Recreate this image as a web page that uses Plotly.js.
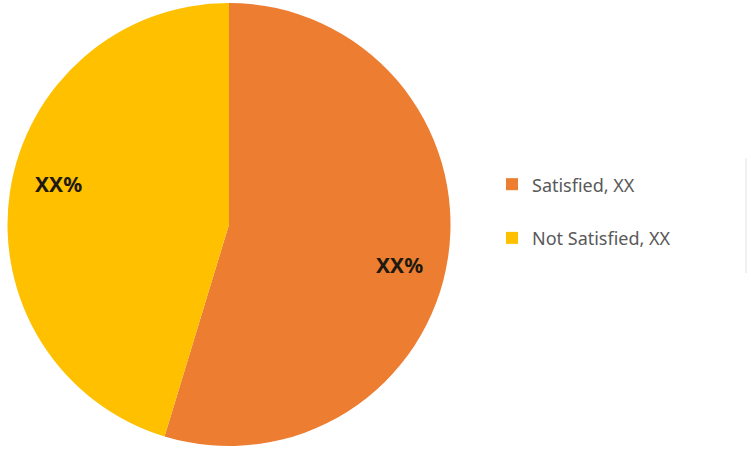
<!DOCTYPE html>
<html>
<head>
<meta charset="utf-8">
<script src="https://cdn.plot.ly/plotly-3.0.1.min.js"></script>
<style>html,body{margin:0;padding:0;background:#fff;}#chart{width:751px;height:453px;}</style>
</head>
<body>
<div id="chart"></div>
<script>
// Data
const categories = ["Satisfied", "Not Satisfied"];
const legendValues = ["XX", "XX"];
const shares = [54.7, 45.3];
const sliceLabels = ["XX%", "XX%"];
const colors = ["#ED7D31", "#FFC000"];

const W = 751, H = 453;
const domX = [7 / W, 451 / W];
const domY = [1 - 446 / H, 1 - 3 / H];

// Pie geometry (pixels) for label placement
const cx = (domX[0] + domX[1]) / 2 * W;
const cy = (1 - (domY[0] + domY[1]) / 2) * H;
const R = 221.5;
const labelR = 0.79 * R;
const labelShiftDeg = 5;

const total = shares.reduce((a, b) => a + b, 0);
let cum = 0;
const annotations = shares.map((v, i) => {
  const mid = (cum + v / 2) / total * 360 + labelShiftDeg;
  cum += v;
  const rad = mid * Math.PI / 180;
  const px = cx + labelR * Math.sin(rad);
  const py = cy - labelR * Math.cos(rad);
  return {
    x: px / W, y: 1 - py / H, xref: 'paper', yref: 'paper',
    xanchor: 'center', yanchor: 'middle',
    text: '<b>' + sliceLabels[i] + '</b>', showarrow: false,
    font: {family: 'Noto Sans, DejaVu Sans, sans-serif', size: 21, color: '#1e1a10'}
  };
});

const legendLabels = categories.map((c, i) =>
  '<span style="font-size:18px">' + c + ', ' + legendValues[i] + '</span><br>&nbsp;');

const trace = {
  type: 'pie',
  labels: legendLabels,
  values: shares,
  sort: false,
  direction: 'clockwise',
  rotation: 0,
  marker: {colors: colors, line: {width: 0}},
  textinfo: 'none',
  hoverinfo: 'none',
  domain: {x: domX, y: domY}
};

const layout = {
  width: W, height: H,
  margin: {l: 0, r: 0, t: 0, b: 0},
  paper_bgcolor: '#ffffff',
  showlegend: true,
  legend: {
    x: 492 / W, xanchor: 'left',
    y: 1 - 165 / H, yanchor: 'top',
    valign: 'top',
    font: {family: 'Noto Sans, DejaVu Sans, sans-serif', size: 19.5, color: '#595959'},
    bgcolor: 'rgba(0,0,0,0)',
    borderwidth: 0
  },
  annotations: annotations,
  shapes: [{
    type: 'line', xref: 'paper', yref: 'paper',
    x0: 746 / W, x1: 746 / W, y0: 1 - 158 / H, y1: 1 - 273 / H,
    line: {color: '#ebebeb', width: 1.5}
  }]
};

Plotly.newPlot('chart', [trace], layout, {displayModeBar: false, staticPlot: true});
</script>
</body>
</html>
